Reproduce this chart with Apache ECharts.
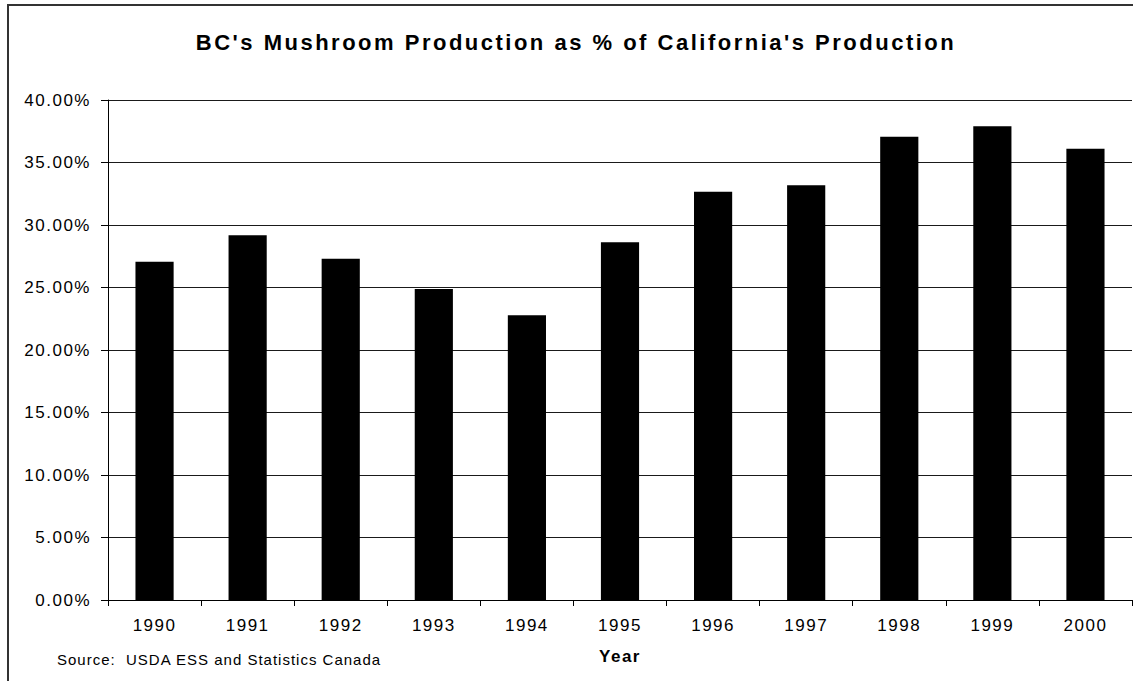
<!DOCTYPE html>
<html>
<head>
<meta charset="utf-8">
<style>
  html, body { margin: 0; padding: 0; background: #fff; }
  #chart { width: 1133px; height: 681px; }
  /* the original Excel export has wide tracking on all its text */
  #chart svg text { letter-spacing: 1.5px; }
  #chart svg text[style*="22px"] { letter-spacing: 2.5px; }
  #chart svg text[style*="15px"] { letter-spacing: 1px; }
  #chart svg text[style*="bold 17px"] { letter-spacing: 1px; }
</style>
<script src="https://cdn.jsdelivr.net/npm/echarts@6/dist/echarts.min.js"></script>
</head>
<body>
<div id="chart"></div>
<script>
  var years = ['1990', '1991', '1992', '1993', '1994', '1995', '1996', '1997', '1998', '1999', '2000'];
  // BC production as % of California production
  var bcShare = [27.06, 29.18, 27.3, 24.88, 22.78, 28.62, 32.66, 33.18, 37.06, 37.9, 36.1];

  var FONT = "'Liberation Sans', Arial, sans-serif";

  var chart = echarts.init(document.getElementById('chart'), null, { renderer: 'svg' });
  chart.setOption({
    animation: false,
    backgroundColor: '#fff',
    textStyle: { fontFamily: FONT, color: '#000' },
    grid: { left: 108, right: 1, top: 100, bottom: 81, containLabel: false },
    xAxis: {
      type: 'category',
      data: years,
      name: 'Year',
      nameLocation: 'middle',
      nameGap: 48,
      nameTextStyle: { fontFamily: FONT, fontSize: 17, fontWeight: 'bold', color: '#000' },
      axisLine: { lineStyle: { color: '#000', width: 1 } },
      axisTick: { show: true, length: 6, lineStyle: { color: '#000' } },
      axisLabel: { fontFamily: FONT, fontSize: 17, color: '#000', margin: 17 },
      splitLine: { show: false }
    },
    yAxis: {
      type: 'value',
      min: 0,
      max: 40,
      interval: 5,
      axisLine: { show: true, lineStyle: { color: '#000', width: 1 } },
      axisTick: { show: true, length: 7, lineStyle: { color: '#000' } },
      axisLabel: {
        fontFamily: FONT, fontSize: 17, color: '#000', margin: 17,
        formatter: function (v) { return v.toFixed(2) + '%'; }
      },
      splitLine: { show: true, lineStyle: { color: '#1a1a1a', width: 1 } }
    },
    series: [{
      type: 'bar',
      data: bcShare,
      barCategoryGap: '59%',
      itemStyle: { color: '#000' }
    }],
    graphic: [
      {
        type: 'rect',
        shape: { x: 8, y: 5, width: 1300, height: 900 },
        style: { fill: 'none', stroke: '#333', lineWidth: 2 },
        silent: true
      },
      {
        type: 'text',
        x: 576, y: 42,
        style: {
          text: "BC's Mushroom Production as % of California's Production",
          font: 'bold 22px ' + FONT,
          fill: '#000',
          textAlign: 'center',
          textVerticalAlign: 'middle'
        }
      },
      {
        type: 'text',
        x: 57, y: 659,
        style: {
          text: 'Source:  USDA ESS and Statistics Canada',
          font: '15px ' + FONT,
          fill: '#000',
          textAlign: 'left',
          textVerticalAlign: 'middle'
        }
      }
    ]
  });
</script>
</body>
</html>
